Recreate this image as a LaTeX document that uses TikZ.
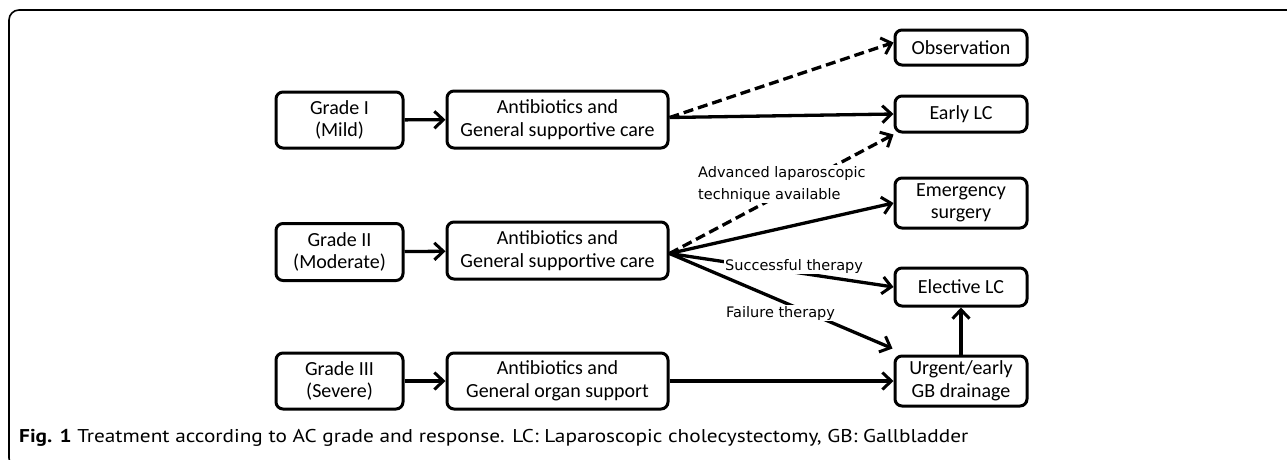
\documentclass[tikz,border=0pt]{standalone}
\usepackage{fontspec}
\setmainfont{Carlito}
\newfontfamily\labfont{DejaVu Sans}
\newfontfamily\capfont{PT Sans}
\usetikzlibrary{arrows.meta}
\tikzset{
  box/.style={draw, line width=3pt, rounded corners=7pt, align=center, font=\fontsize{20}{22.5}\selectfont, inner sep=0pt},
  arr/.style={line width=3.3pt, -{Straight Barb[length=9pt,width=17pt,line width=3pt]}},
  dsh/.style={arr, dash pattern=on 10pt off 5pt},
  lab/.style={fill=white, inner sep=1pt, align=left, font=\labfont\fontsize{14.5}{22}\selectfont, anchor=west}
}
\begin{document}
\begin{tikzpicture}[x=1pt,y=-1pt]
\useasboundingbox (0,0) rectangle (1287,459);
\fill[white] (0,0) rectangle (1287,459);
% frame
\draw[line width=1.6pt, rounded corners=10pt] (1300,10) -- (9,10) -- (9,468) -- (60,468);
% left nodes
\node[box, minimum width=127pt, minimum height=56pt] (g1) at (339.5,120) {Grade I\\(Mild)};
\node[box, minimum width=127pt, minimum height=57pt] (g2) at (339.5,252) {Grade II\\(Moderate)};
\node[box, minimum width=127pt, minimum height=56pt] (g3) at (339.5,381) {Grade III\\(Severe)};
\node[box, minimum width=221pt, minimum height=57pt] (a1) at (557.5,119.5) {Antibiotics and\\General supportive care};
\node[box, minimum width=221pt, minimum height=57pt] (a2) at (557.5,250.5) {Antibiotics and\\General supportive care};
\node[box, minimum width=221pt, minimum height=56pt] (a3) at (557.5,381) {Antibiotics and\\General organ support};
% right nodes
\node[box, minimum width=132pt, minimum height=35pt] (obs) at (961,47.5) {Observation};
\node[box, minimum width=132pt, minimum height=36pt] (elc) at (961,114) {Early LC};
\node[box, minimum width=132pt, minimum height=50pt] (em) at (961,203) {Emergency\\surgery};
\node[box, minimum width=132pt, minimum height=38pt] (el) at (961,287) {Elective LC};
\node[box, minimum width=132pt, minimum height=50pt] (ur) at (961,381) {Urgent/early\\GB drainage};
% connectors
\draw[arr] (g1) -- (a1);
\draw[arr] (g2) -- (a2);
\draw[arr] (g3) -- (a3);
\coordinate (s1) at ([yshift=2pt]a1.east);
\coordinate (s2) at ([yshift=-3pt]a2.east);
\draw[dsh] (s1) -- ([yshift=5pt]obs.west);
\draw[arr] (s1) -- (elc.west);
\draw[dsh] (s2) -- ([yshift=-1pt]elc.south west);
\draw[arr] (s2) -- (em.west);
\draw[arr] (s2) -- (el.west);
\draw[arr] (s2) -- ([xshift=-1pt,yshift=6pt]ur.north west);
\draw[arr] (a3) -- (ur);
\draw[arr] (ur) -- (el);
% labels
\node[lab] (l1) at (697,184) {Advanced laparoscopic\\technique available};
\node[lab] (l2) at (724,266) {Successful therapy};
\node[lab] (l3) at (725,313) {Failure therapy};
% caption
\node[anchor=west, inner sep=0pt] (cap) at (19,438) {\scalebox{1.15}[1]{\capfont\fontsize{18.5}{20}\selectfont\textbf{Fig. 1} Treatment according to AC grade and response. LC: Laparoscopic cholecystectomy, GB: Gallbladder}};
\end{tikzpicture}
\end{document}
